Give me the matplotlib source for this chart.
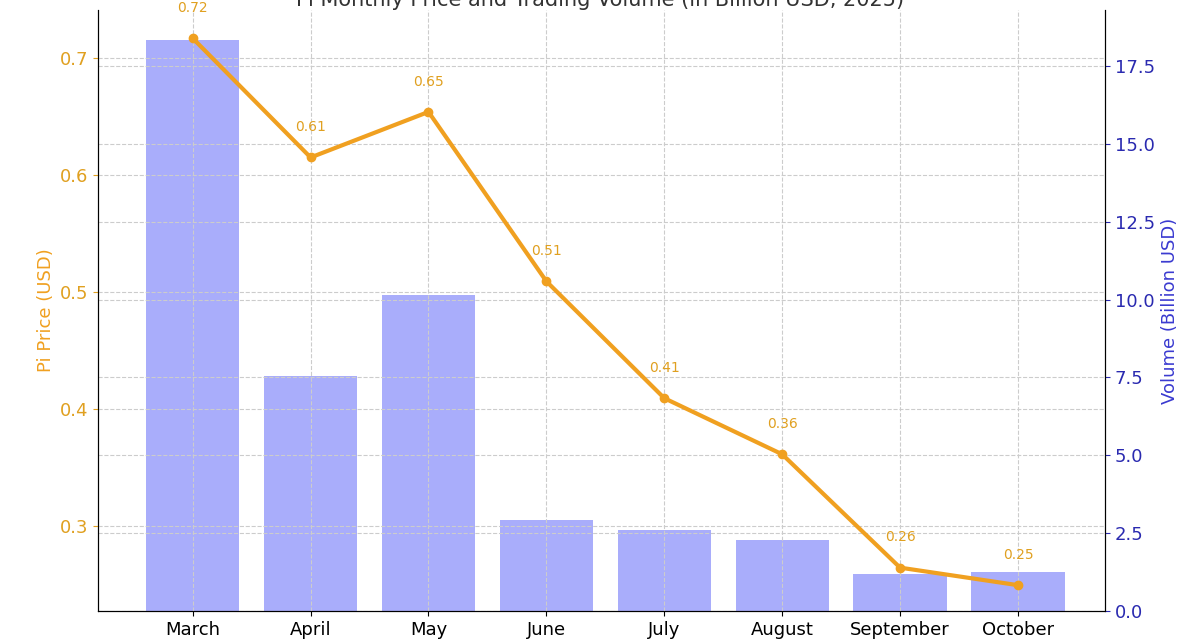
import matplotlib
matplotlib.use("Agg")
import matplotlib.pyplot as plt

months = ["March","April","May","June","July","August","September","October"]
price = [0.717,0.615,0.654,0.509,0.409,0.361,0.264,0.249]
volume = [18.35,7.55,10.15,2.92,2.6,2.28,1.19,1.25]

fig = plt.figure(figsize=(12,6.39), dpi=100)
ax = fig.add_axes([0.082,0.044,0.839,0.94])
ax2 = ax.twinx()
x = range(len(months))
ax2.bar(x, volume, width=0.79, color="#a9adfb", zorder=1)
ax2.set_ylim(0,19.3)
ax2.set_yticks([0,2.5,5,7.5,10,12.5,15,17.5])
ax2.tick_params(axis='y', colors="#2a2ab0", labelsize=13)
ax2.set_ylabel("Volume (Billion USD)", color="#3a3ad0", fontsize=13)
ax.set_zorder(ax2.get_zorder()+1); ax.patch.set_visible(False)
ax.plot(x, price, color="#f0a020", lw=3, marker='o', ms=6, zorder=3)
for i,p in enumerate(price):
    ax.text(i, p+0.02, f"{p:.2f}", ha='center', va='bottom', color="#e0a020", fontsize=10)
ax.set_ylim(0.227,0.741)
ax.set_xlim(-0.8,7.74)
ax.set_xticks(list(x)); ax.set_xticklabels(months, fontsize=13)
ax.set_yticks([0.3,0.4,0.5,0.6,0.7])
ax.tick_params(axis='y', colors="#e0a020", labelsize=13)
ax.set_ylabel("Pi Price (USD)", color="#f0a020", fontsize=13)
ax.grid(True, ls='--', color='#cccccc', lw=0.8)
ax2.grid(True, axis='y', ls='--', color='#cccccc', lw=0.8)
for a in (ax,ax2):
    a.spines['top'].set_visible(False)
fig.text(0.5,1.0,"Pi Monthly Price and Trading Volume (in Billion USD, 2025)", ha='center', va='center', fontsize=15, color='#333333')
fig.savefig("out.png")
